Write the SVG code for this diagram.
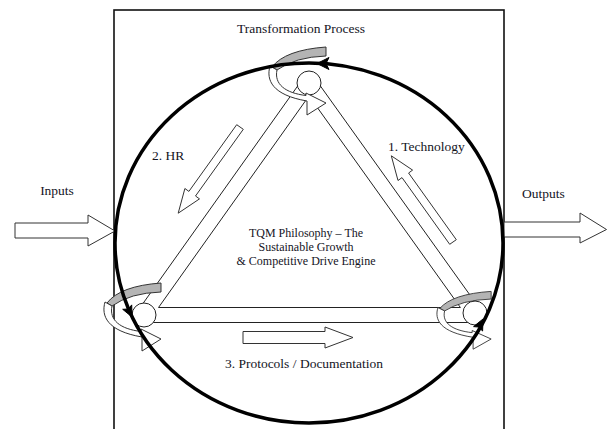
<svg xmlns="http://www.w3.org/2000/svg" xmlns:xlink="http://www.w3.org/1999/xlink" width="608" height="429" viewBox="0 0 608 429">
<style>
  .lbl { font-family: "Liberation Serif", "Times New Roman", serif; font-size: 13.5px; fill: #14141e; }
  .ctr { font-family: "Liberation Serif", "Times New Roman", serif; font-size: 12px; fill: #14141e; text-anchor: middle; }
  .band { fill: #ffffff; stroke: none; }
  .edge { fill: none; stroke: #222; stroke-width: 1; }
  .blk { fill: #ffffff; stroke: #333; stroke-width: 1; stroke-linejoin: miter; }
  .node { fill: #ffffff; stroke: #222; stroke-width: 1; }
  .gray { fill: #b4b4b4; stroke: #333; stroke-width: 1; }
  .swhite { fill: #ffffff; stroke: #333; stroke-width: 1; }
  .head { fill: #000; stroke: #000; stroke-width: 1; stroke-linejoin: round; }
</style>
<defs>
  <g id="swirl">
    <path class="gray" d="M -37,-16 Q -24,-33 17,-36 L 17,-27 Q -14,-26 -32,-13 Z"/>
    <path class="swhite" d="M -39,-17 C -43,-3 -37,12 -2,18 L -2,32 L 17,20 L -3,10 L -3,12.5 C -24,10 -35,1 -32,-13 Z"/>
  </g>
</defs>
<rect width="608" height="429" fill="#ffffff"/>

<g id="frame">
  <rect x="114" y="10" width="390" height="440" fill="none" stroke="#111" stroke-width="1.6"/>
</g>

<g id="connectors">
  <g id="triangle-bands">
    <polygon class="band" points="302.9,78.65 315.1,87.35 150.1,319.35 137.9,310.65"/>
    <polygon class="band" points="315.1,78.6 302.9,87.4 468.9,319.4 481.1,310.6"/>
    <polygon class="band" points="144,307.5 475,307.5 475,322.5 144,322.5"/>
    <polygon class="edge" points="309,95.9 158.5,307.5 460.4,307.5"/>
    <line class="edge" x1="302.9" y1="78.65" x2="137.9" y2="310.65"/>
    <line class="edge" x1="315.1" y1="78.6" x2="481.1" y2="310.6"/>
    <line class="edge" x1="144" y1="322.5" x2="475" y2="322.5"/>
  </g>
  <polygon id="arrow-hr" class="blk" points="236.7,124.7 243.3,129.3 195.5,196 199.5,198.9 178.2,213.2 184.9,188.5 188.9,191.4"/>
  <polygon id="arrow-technology" class="blk" points="456.3,239.7 449.7,244.3 402,177.6 398,180.5 391.3,155.8 412.6,170.1 408.6,173"/>
  <polygon id="arrow-protocols" class="blk" points="243,331.5 325,331.5 325,327 353,337.5 325,348 325,343.5 243,343.5"/>
  <polygon id="arrow-inputs" class="blk" points="15,223 88,223 88,215 115,231 88,246 88,238 15,238"/>
  <polygon id="arrow-outputs" class="blk" points="504,222 580,222 580,213 606.5,229.5 580,243 580,237 504,237"/>
</g>

<g id="node-top">
  <circle class="node" cx="309" cy="83" r="12"/>
  <use xlink:href="#swirl" href="#swirl" transform="translate(309,83)"/>
</g>
<g id="node-bottom-left">
  <circle class="node" cx="144" cy="315" r="12"/>
  <use xlink:href="#swirl" href="#swirl" transform="translate(144,319)"/>
</g>
<g id="node-bottom-right">
  <circle class="node" cx="475" cy="313" r="12"/>
  <use xlink:href="#swirl" href="#swirl" transform="translate(475,322) scale(0.95,0.85)"/>
</g>

<g id="cycle">
  <ellipse cx="309" cy="243" rx="194" ry="180" fill="none" stroke="#000" stroke-width="3.5"/>
  <polygon class="head" points="317,63.5 329,57.5 326,63.5 329,69.5"/>
  <polygon class="head" points="132,317 131.7,304.9 128.5,309 122.7,309.3"/>
  <polygon class="head" points="483,319 473.6,326.6 478.5,327 482.6,331"/>
</g>

<g id="labels">
  <text class="lbl" x="301" y="33" text-anchor="middle">Transformation Process</text>
  <text class="lbl" x="57" y="195" text-anchor="middle">Inputs</text>
  <text class="lbl" x="522" y="198">Outputs</text>
  <text class="lbl" x="152" y="160">2. HR</text>
  <text class="lbl" x="388" y="151">1. Technology</text>
  <text class="lbl" x="304" y="368" text-anchor="middle">3. Protocols / Documentation</text>
  <text class="ctr" x="306" y="237">TQM Philosophy – The</text>
  <text class="ctr" x="306" y="251">Sustainable Growth</text>
  <text class="ctr" x="306" y="265">&amp; Competitive Drive Engine</text>
</g>
</svg>
